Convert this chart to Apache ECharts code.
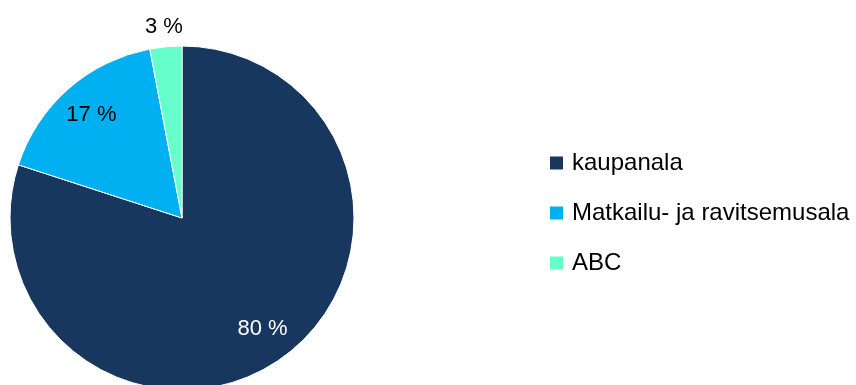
<!DOCTYPE html>
<html>
<head>
<meta charset="utf-8">
<script src="https://cdn.jsdelivr.net/npm/echarts@6/dist/echarts.min.js"></script>
<style>
  html, body { margin: 0; padding: 0; background: #fff; }
  #chart { width: 856px; height: 385px; }
</style>
</head>
<body>
<div id="chart"></div>
<script>
// Toimialojen osuudet (%)
const categories = ['kaupanala', 'Matkailu- ja ravitsemusala', 'ABC'];
const shares = [80, 17, 3];
const colors = ['#17375E', '#00B0F0', '#66FFCC'];
const labelColors = ['#ffffff', '#000000', '#000000'];
// Which slices carry their label inside the pie and which above it
const innerLabel = [true, true, false];

const FONT = '"Liberation Sans", Arial, sans-serif';
const CENTER = [182, 218];
const R = 172;

const pieData = categories.map((name, i) => ({
  name, value: shares[i], itemStyle: { color: colors[i] }
}));

function labelData(showFlags) {
  return categories.map((name, i) => ({
    name, value: shares[i],
    label: { show: showFlags[i], color: labelColors[i] }
  }));
}

const transparentRing = {
  type: 'pie',
  center: CENTER,
  startAngle: 90,
  clockwise: true,
  silent: true,
  legendHoverLink: false,
  itemStyle: { color: 'rgba(0,0,0,0)', borderWidth: 0 },
  emphasis: { disabled: true },
  labelLine: { show: false },
  tooltip: { show: false },
  animation: false
};

const chart = echarts.init(document.getElementById('chart'));
chart.setOption({
  animation: false,
  legend: {
    orient: 'vertical',
    left: 543,
    top: 146,
    icon: 'rect',
    itemWidth: 15,
    itemHeight: 15,
    itemGap: 26,
    data: categories,
    selectedMode: false,
    textStyle: {
      fontFamily: FONT,
      fontSize: 24,
      lineHeight: 24,
      color: '#000',
      padding: [0, 0, 0, 3]
    }
  },
  series: [
    {
      type: 'pie',
      center: CENTER,
      radius: R,
      startAngle: 90,
      clockwise: true,
      data: pieData,
      itemStyle: { borderColor: '#ffffff', borderWidth: 1 },
      label: { show: false },
      labelLine: { show: false },
      emphasis: { disabled: true }
    },
    Object.assign({}, transparentRing, {
      radius: [96, R],
      data: labelData(innerLabel),
      label: {
        position: 'inside',
        formatter: '{c} %',
        fontFamily: FONT,
        fontSize: 22
      }
    }),
    Object.assign({}, transparentRing, {
      radius: [R, 206],
      data: labelData(innerLabel.map(v => !v)),
      label: {
        position: 'inside',
        formatter: '{c} %',
        fontFamily: FONT,
        fontSize: 22
      }
    })
  ]
});
</script>
</body>
</html>
